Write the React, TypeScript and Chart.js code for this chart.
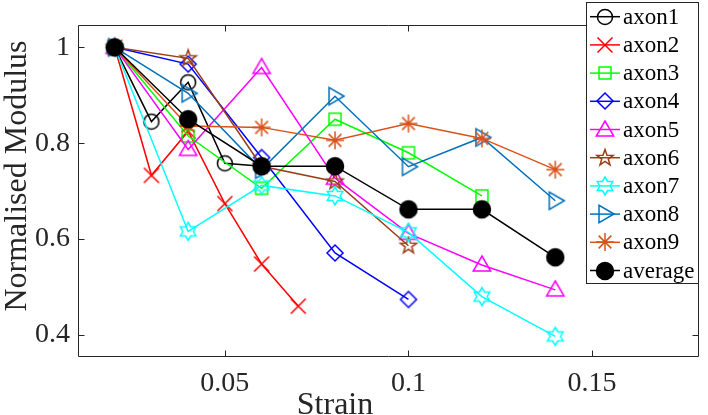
import React, { useEffect, useRef } from "react";
import { Chart, registerables } from "chart.js";

Chart.register(...registerables);

// ---------------- data ----------------
const strain1 = [0.02, 0.03, 0.04, 0.05, 0.06];
const strain2 = [0.02, 0.03, 0.04, 0.05, 0.06, 0.07];
const strainMain = [0.02, 0.04, 0.06, 0.08, 0.1, 0.12, 0.14];

const axon1 = [1.0, 0.845, 0.927, 0.758, 0.752];
const axon2 = [1.0, 0.733, 0.825, 0.674, 0.548, 0.46];
const axon3 = [1.0, 0.815, 0.706, 0.85, 0.78, 0.69];
const axon4 = [1.0, 0.965, 0.77, 0.571, 0.474];
const axon5 = [1.0, 0.787, 0.958, 0.727, 0.612, 0.546, 0.494];
const axon6 = [1.0, 0.977, 0.752, 0.72, 0.586];
const axon7 = [1.0, 0.616, 0.712, 0.69, 0.614, 0.48, 0.397];
const axon8 = [1.0, 0.904, 0.745, 0.898, 0.751, 0.812, 0.68];
const axon9 = [1.0, 0.836, 0.833, 0.806, 0.841, 0.81, 0.745];
const average = [1.0, 0.85, 0.752, 0.752, 0.662, 0.662, 0.562];

const seriesLabels = ["axon1", "axon2", "axon3", "axon4", "axon5", "axon6", "axon7", "axon8", "axon9", "average"];
const xTicks = [0.05, 0.1, 0.15];
const yTicks = [0.4, 0.6, 0.8, 1];
const xTitle = "Strain";
const yTitle = "Normalised Modulus";

// ---------------- styles ----------------
const FONT = '"Liberation Serif", "Times New Roman", serif';
const AXIS_COLOR = "#262626";

type MarkerKind = "circle" | "x" | "square" | "diamond" | "triUp" | "pent" | "hex" | "triRight" | "aster" | "dot";

const seriesDefs: { strain: number[]; values: number[]; color: string; marker: MarkerKind }[] = [
  { strain: strain1, values: axon1, color: "#000000", marker: "circle" },
  { strain: strain2, values: axon2, color: "#ff0000", marker: "x" },
  { strain: strainMain, values: axon3, color: "#00ff00", marker: "square" },
  { strain: strainMain, values: axon4, color: "#0000ff", marker: "diamond" },
  { strain: strainMain, values: axon5, color: "#ff00ff", marker: "triUp" },
  { strain: strainMain, values: axon6, color: "#9a3d12", marker: "pent" },
  { strain: strainMain, values: axon7, color: "#00ffff", marker: "hex" },
  { strain: strainMain, values: axon8, color: "#0072bd", marker: "triRight" },
  { strain: strainMain, values: axon9, color: "#d95319", marker: "aster" },
  { strain: strainMain, values: average, color: "#000000", marker: "dot" },
];

function starPath(g: CanvasRenderingContext2D, n: number, ro: number, ri: number) {
  for (let i = 0; i < 2 * n; i++) {
    const r = i % 2 === 0 ? ro : ri;
    const a = -Math.PI / 2 + (i * Math.PI) / n;
    const px = r * Math.cos(a);
    const py = r * Math.sin(a);
    if (i === 0) g.moveTo(px, py);
    else g.lineTo(px, py);
  }
  g.closePath();
}

function makeMarker(kind: MarkerKind, color: string): HTMLCanvasElement {
  const S = 26;
  const c = document.createElement("canvas");
  c.width = S;
  c.height = S;
  const g = c.getContext("2d")!;
  g.translate(S / 2, S / 2);
  g.strokeStyle = color;
  g.fillStyle = color;
  g.lineWidth = 1.5;
  g.lineJoin = "miter";
  g.beginPath();
  switch (kind) {
    case "circle":
      g.arc(0, 0, 7.5, 0, Math.PI * 2);
      break;
    case "x":
      g.moveTo(-7.5, -7.5);
      g.lineTo(7.5, 7.5);
      g.moveTo(7.5, -7.5);
      g.lineTo(-7.5, 7.5);
      break;
    case "square":
      g.rect(-6, -6, 12, 12);
      break;
    case "diamond":
      g.moveTo(0, -8);
      g.lineTo(8, 0);
      g.lineTo(0, 8);
      g.lineTo(-8, 0);
      g.closePath();
      break;
    case "triUp":
      g.moveTo(0, -9);
      g.lineTo(8.7, 6);
      g.lineTo(-8.7, 6);
      g.closePath();
      break;
    case "triRight":
      g.moveTo(9, 0);
      g.lineTo(-6, -8.7);
      g.lineTo(-6, 8.7);
      g.closePath();
      break;
    case "pent":
      starPath(g, 5, 8.5, 3.4);
      break;
    case "hex":
      starPath(g, 6, 9, 5.2);
      break;
    case "aster":
      for (let i = 0; i < 4; i++) {
        const a = (i * Math.PI) / 4;
        g.moveTo(-9 * Math.cos(a), -9 * Math.sin(a));
        g.lineTo(9 * Math.cos(a), 9 * Math.sin(a));
      }
      break;
    case "dot":
      g.arc(0, 0, 8.5, 0, Math.PI * 2);
      g.fill();
      break;
  }
  g.stroke();
  return c;
}

// ---------------- layout constants ----------------
const Y_AXIS_WIDTH = 78;
const X_AXIS_HEIGHT = 58;
const TICK_LEN = 6;

const framePlugin = {
  id: "frame",
  afterDraw(chart: any) {
    const { ctx, chartArea: a, scales } = chart;
    const L = Math.round(a.left) + 0.5;
    const R = Math.round(a.right) - 0.5;
    const T = Math.round(a.top) + 0.5;
    const B = Math.round(a.bottom) - 0.5;
    ctx.save();
    ctx.strokeStyle = AXIS_COLOR;
    ctx.lineWidth = 1;
    ctx.beginPath();
    ctx.rect(L, T, R - L, B - T);
    for (const v of xTicks) {
      const px = Math.round(scales.x.getPixelForValue(v)) + 0.5;
      ctx.moveTo(px, B);
      ctx.lineTo(px, B - TICK_LEN);
      ctx.moveTo(px, T);
      ctx.lineTo(px, T + TICK_LEN);
    }
    for (const v of yTicks) {
      const py = Math.round(scales.y.getPixelForValue(v)) + 0.5;
      ctx.moveTo(L, py);
      ctx.lineTo(L + TICK_LEN, py);
      ctx.moveTo(R, py);
      ctx.lineTo(R - TICK_LEN, py);
    }
    ctx.stroke();

    // axis titles
    ctx.fillStyle = AXIS_COLOR;
    ctx.font = `32px ${FONT}`;
    ctx.textAlign = "center";
    ctx.textBaseline = "alphabetic";
    ctx.fillText(xTitle, 335, 414);
    ctx.save();
    ctx.translate(26, 176);
    ctx.rotate(-Math.PI / 2);
    ctx.fillText(yTitle, 0, 0);
    ctx.restore();

    // legend
    const lx0 = 586.5;
    const ly0 = 2.5;
    const lx1 = R;
    const ly1 = 283.5;
    ctx.fillStyle = "#ffffff";
    ctx.fillRect(lx0, ly0, lx1 - lx0, ly1 - ly0);
    ctx.strokeStyle = AXIS_COLOR;
    ctx.strokeRect(lx0, ly0, lx1 - lx0, ly1 - ly0);
    ctx.font = `23px ${FONT}`;
    ctx.textAlign = "left";
    ctx.textBaseline = "middle";
    chart.data.datasets.forEach((ds: any, i: number) => {
      const cy = 16.7 + i * 28.2;
      ctx.strokeStyle = ds.borderColor;
      ctx.lineWidth = 1.5;
      ctx.beginPath();
      ctx.moveTo(590, cy);
      ctx.lineTo(620, cy);
      ctx.stroke();
      const m = ds.pointStyle as HTMLCanvasElement;
      ctx.drawImage(m, Math.round(605 - m.width / 2), Math.round(cy - m.height / 2));
      ctx.fillStyle = "#000000";
      ctx.fillText(ds.label, 623, cy + 1);
    });
    ctx.restore();
  },
};

export default function App() {
  const canvasRef = useRef<HTMLCanvasElement | null>(null);

  useEffect(() => {
    if (!canvasRef.current) return;
    const n = seriesDefs.length;
    const datasets = seriesDefs.map((s, i) => ({
      label: seriesLabels[i],
      data: s.values.map((v, j) => ({ x: s.strain[j], y: v })),
      borderColor: s.color,
      backgroundColor: s.color,
      borderWidth: 1.5,
      pointStyle: makeMarker(s.marker, s.color),
      pointRadius: 8,
      tension: 0,
      fill: false,
      order: n - i,
      clip: false as any,
    }));

    const chart = new Chart(canvasRef.current, {
      type: "line",
      data: { datasets },
      options: {
        responsive: false,
        animation: false,
        events: [],
        layout: { padding: { left: 0, top: 2, right: 9, bottom: 0 } },
        plugins: { legend: { display: false }, tooltip: { enabled: false }, title: { display: false } },
        scales: {
          x: {
            type: "linear",
            min: 0.01,
            max: 0.179,
            grid: { display: false, drawTicks: false },
            border: { display: false },
            afterBuildTicks: (sc: any) => {
              sc.ticks = xTicks.map((v) => ({ value: v }));
            },
            afterFit: (sc: any) => {
              sc.height = X_AXIS_HEIGHT;
            },
            ticks: {
              autoSkip: false,
              maxRotation: 0,
              padding: 10,
              color: AXIS_COLOR,
              font: { family: FONT, size: 28 },
              callback: (v: any) => String(v),
            },
          },
          y: {
            type: "linear",
            min: 0.354,
            max: 1.047,
            grid: { display: false, drawTicks: false },
            border: { display: false },
            afterBuildTicks: (sc: any) => {
              sc.ticks = yTicks.map((v) => ({ value: v }));
            },
            afterFit: (sc: any) => {
              sc.width = Y_AXIS_WIDTH;
            },
            ticks: {
              autoSkip: false,
              padding: 8,
              color: AXIS_COLOR,
              font: { family: FONT, size: 28 },
              callback: (v: any) => String(v),
            },
          },
        },
      },
      plugins: [framePlugin],
    });
    return () => chart.destroy();
  }, []);

  return (
    <div style={{ position: "fixed", left: 0, top: 0, width: 708, height: 415, background: "#ffffff" }}>
      <canvas ref={canvasRef} width={708} height={415} style={{ display: "block" }} />
    </div>
  );
}
